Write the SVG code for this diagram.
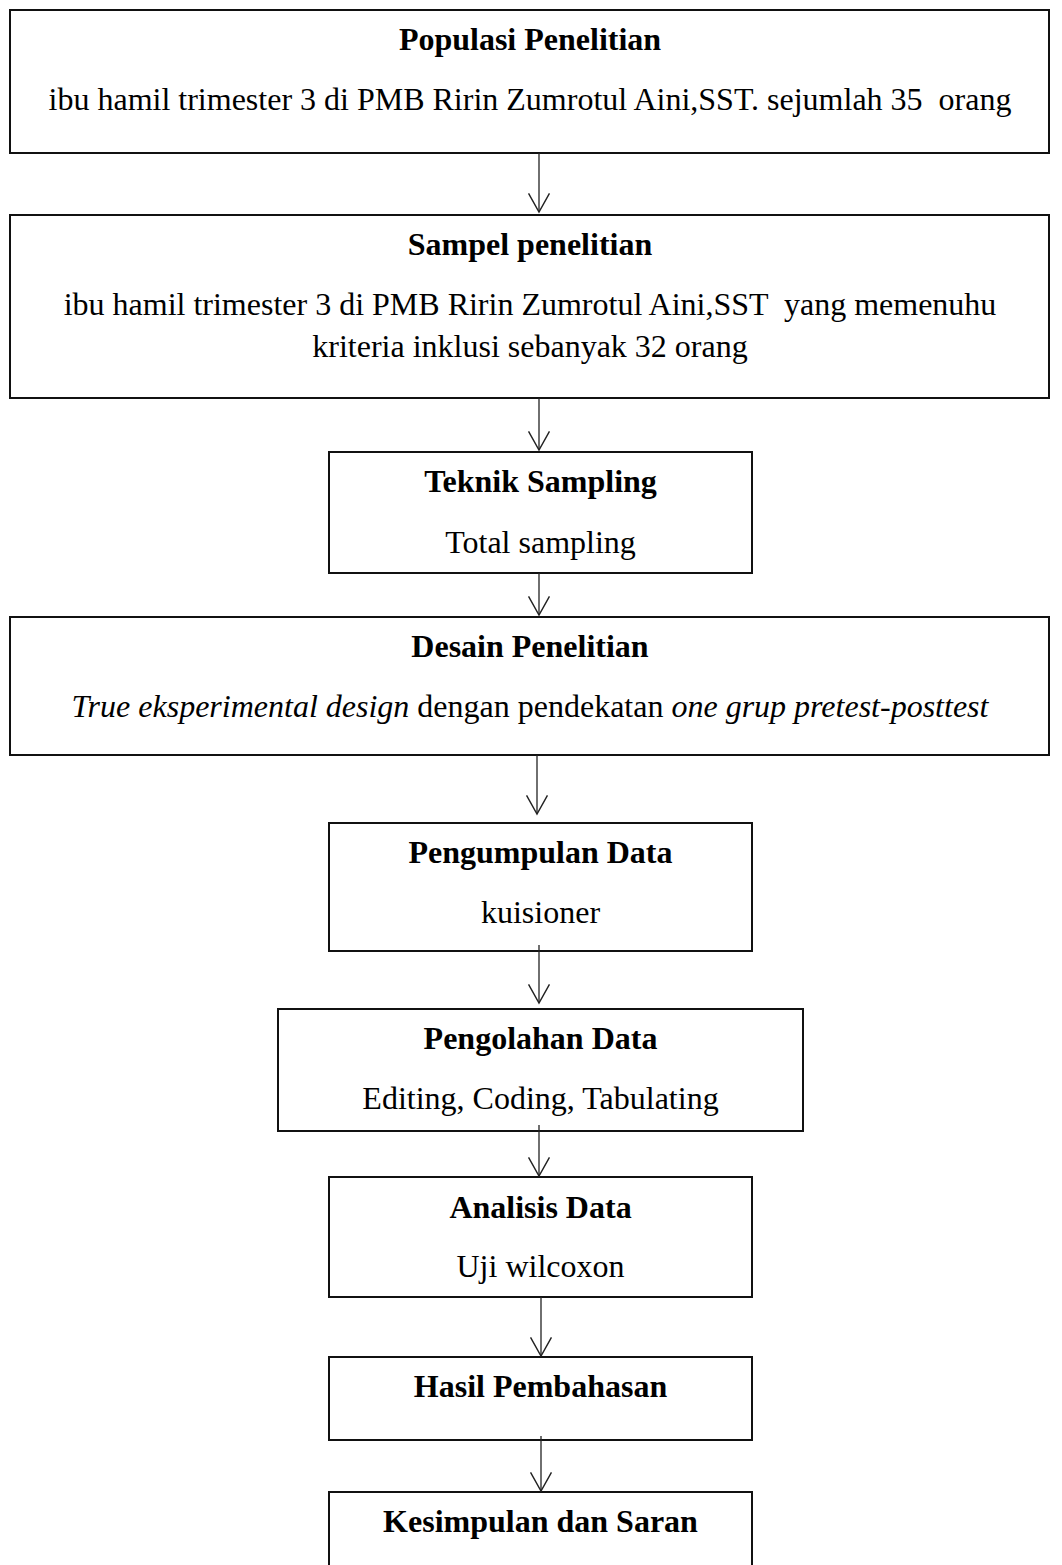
<svg xmlns="http://www.w3.org/2000/svg" width="1062" height="1565" viewBox="0 0 1062 1565">
<style>
.box{fill:#fff;stroke:#111;stroke-width:2}
.t{font-family:"Liberation Serif","Times New Roman",serif;font-size:32px;fill:#000;text-anchor:middle}
.b{font-weight:bold}
.i{font-style:italic}
.c{stroke:#222;stroke-width:1.3;fill:none}
</style>
<defs>
<marker id="ah" markerUnits="userSpaceOnUse" markerWidth="22" markerHeight="24" refX="18" refY="10" orient="auto" viewBox="0 0 20 20">
<polyline points="1,0.5 18,10 1,19.5" fill="none" stroke="#222" stroke-width="1.3"/>
</marker>
</defs>
<rect width="1062" height="1565" fill="#fff"/>
<g id="n1"><rect class="box" x="10" y="10" width="1039" height="143"/>
<text class="t b" x="530" y="50">Populasi Penelitian</text>
<text class="t" x="530" y="110" xml:space="preserve">ibu hamil trimester 3 di PMB Ririn Zumrotul Aini,SST. sejumlah 35  orang</text></g>
<g id="n2"><rect class="box" x="10" y="215" width="1039" height="183"/>
<text class="t b" x="530" y="255">Sampel penelitian</text>
<text class="t" x="530" y="315" xml:space="preserve">ibu hamil trimester 3 di PMB Ririn Zumrotul Aini,SST  yang memenuhu</text>
<text class="t" x="530" y="357">kriteria inklusi sebanyak 32 orang</text></g>
<g id="n3"><rect class="box" x="329" y="452" width="423" height="121"/>
<text class="t b" x="540.5" y="492">Teknik Sampling</text>
<text class="t" x="540.5" y="553">Total sampling</text></g>
<g id="n4"><rect class="box" x="10" y="617" width="1039" height="138"/>
<text class="t b" x="530" y="657">Desain Penelitian</text>
<text class="t" x="530" y="717"><tspan class="i">True eksperimental design</tspan> dengan pendekatan <tspan class="i">one grup pretest-posttest</tspan></text></g>
<g id="n5"><rect class="box" x="329" y="823" width="423" height="128"/>
<text class="t b" x="540.5" y="863">Pengumpulan Data</text>
<text class="t" x="540.5" y="923">kuisioner</text></g>
<g id="n6"><rect class="box" x="278" y="1009" width="525" height="122"/>
<text class="t b" x="540.5" y="1049">Pengolahan Data</text>
<text class="t" x="540.5" y="1109">Editing, Coding, Tabulating</text></g>
<g id="n7"><rect class="box" x="329" y="1177" width="423" height="120"/>
<text class="t b" x="540.5" y="1218">Analisis Data</text>
<text class="t" x="540.5" y="1277">Uji wilcoxon</text></g>
<g id="n8"><rect class="box" x="329" y="1357" width="423" height="83"/>
<text class="t b" x="540.5" y="1397">Hasil Pembahasan</text></g>
<g id="n9"><rect class="box" x="329" y="1492" width="423" height="90"/>
<text class="t b" x="540.5" y="1532">Kesimpulan dan Saran</text></g>
<g id="connectors">
<line class="c" x1="539" y1="153" x2="539" y2="212" marker-end="url(#ah)"/>
<line class="c" x1="539" y1="398" x2="539" y2="450" marker-end="url(#ah)"/>
<line class="c" x1="539" y1="573" x2="539" y2="615" marker-end="url(#ah)"/>
<line class="c" x1="537" y1="755" x2="537" y2="814" marker-end="url(#ah)"/>
<line class="c" x1="539" y1="945" x2="539" y2="1003" marker-end="url(#ah)"/>
<line class="c" x1="539" y1="1125" x2="539" y2="1176" marker-end="url(#ah)"/>
<line class="c" x1="541" y1="1297" x2="541" y2="1356" marker-end="url(#ah)"/>
<line class="c" x1="541" y1="1436" x2="541" y2="1491" marker-end="url(#ah)"/>
</g>
</svg>
